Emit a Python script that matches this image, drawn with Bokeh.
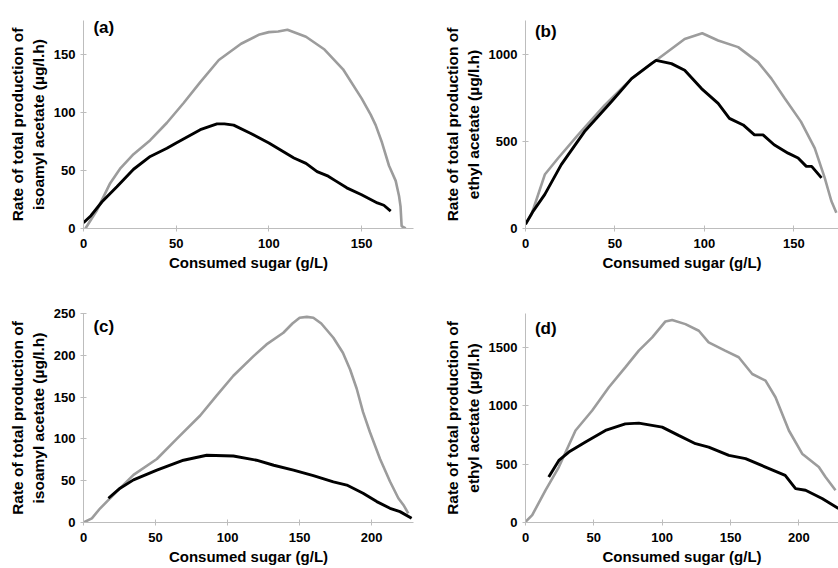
from bokeh.plotting import figure
from bokeh.layouts import column, row
from bokeh.models import Range1d, FixedTicker, Label
from bokeh.embed import file_html
from bokeh.resources import INLINE

# ---------------- data ----------------
# (a) isoamyl acetate, 0-~175 g/L sugar
a_gray_x = [1, 1.8, 7, 14.4, 20, 27, 36, 45, 54, 63, 73, 85, 95, 100, 105, 110, 115, 120, 130, 140, 150, 154.9, 157.6, 161, 164.8, 168.4, 170.2, 171, 171.6, 173.8]
a_gray_y = [0, 2, 15, 39, 52, 64, 76, 91, 108, 126, 145, 159, 167, 169, 169.5, 171, 168, 165, 154, 137, 112, 98, 89, 74, 54, 41, 28, 19, 2, 0]
a_black_x = [0, 4, 10, 18, 27, 36, 45, 50, 63, 72, 76, 81, 90, 100, 113.5, 120, 126, 132, 136, 142, 150, 158.5, 162, 165.7]
a_black_y = [5, 11, 23, 36, 51, 62, 69, 73.6, 85, 90, 90, 89, 82, 73.6, 60.7, 56, 49, 45, 41, 35, 29, 22, 20, 15]

# (b) ethyl acetate
b_gray_x = [0, 3.4, 10.8, 18.3, 29.4, 44.3, 59.3, 74.2, 89, 98.8, 107.7, 118.9, 130, 137.5, 145, 154, 161.7, 167.3, 171, 173.8]
b_gray_y = [25, 82, 310, 405, 538, 709, 861, 975, 1089, 1122, 1080, 1042, 956, 861, 747, 614, 462, 291, 158, 91]
b_black_x = [0, 4.3, 10.8, 20, 33, 48, 59.3, 70.4, 73, 81.6, 89, 98.4, 107.7, 114, 121.7, 128, 132.8, 139, 146.8, 152.4, 157, 160, 165.5]
b_black_y = [25, 100, 196, 367, 557, 728, 861, 947, 966, 947, 909, 804, 719, 633, 595, 538, 538, 481, 433, 405, 357, 357, 291]

# (c) isoamyl acetate, 0-~228 g/L sugar
c_gray_x = [0, 5.8, 11.6, 23, 34.7, 50.9, 64.7, 81, 92.5, 104, 118, 127, 138.7, 145, 150, 155, 159.5, 165, 173.4, 180, 185, 189.6, 194, 198.8, 205.8, 212.7, 218.5, 222, 225.4]
c_gray_y = [0, 5, 17, 37, 57, 76, 100, 128, 152, 175.5, 199, 213, 227, 238, 245, 246, 245, 238, 221, 203, 183, 160, 132, 108, 76, 49, 29, 21, 11]
c_black_x = [17.3, 25.4, 34.7, 50.9, 69.4, 85.5, 104, 120, 132, 145.7, 159.5, 173.4, 182.7, 194, 203.5, 212.7, 219.6, 227.7]
c_black_y = [29, 41, 51, 62.6, 74.5, 80.4, 79.6, 74.5, 68.5, 62.6, 56, 48.7, 44.8, 35, 25, 17, 13, 5]

# (d) ethyl acetate
d_gray_x = [0, 4.9, 14.6, 24.4, 36.6, 48.8, 61, 73, 82.9, 92.7, 102.4, 107.3, 117, 126.8, 134, 146, 156, 165.9, 175.6, 182.9, 192.7, 202.4, 214.6, 219.5, 226.8]
d_gray_y = [6, 63, 276, 475, 788, 959, 1158, 1329, 1472, 1585, 1722, 1734, 1699, 1642, 1543, 1472, 1415, 1272, 1215, 1073, 788, 589, 475, 390, 276]
d_black_x = [17, 24.4, 31.7, 43.9, 58.5, 73, 82.9, 100, 112, 124.4, 134, 148.8, 161, 175.6, 190, 197.6, 204.9, 217, 229]
d_black_y = [390, 532, 603, 689, 788, 845, 851, 817, 746, 675, 646, 575, 547, 475, 404, 290, 276, 205, 120]

x_label = "Consumed sugar (g/L)"
y_label_iso = "Rate of total production of\nisoamyl acetate (µg/l.h)"
y_label_eth = "Rate of total production of\nethyl acetate (µg/l.h)"

FONT = "Liberation Sans"
GRAY = "#9c9c9c"
AXIS = "#bdbdbd"


def panel(tag, tag_off, gx, gy, bx, by, xmax, ymax, xt, yt, ylab, w, h, bl, br, bt, bb):
    p = figure(width=w, height=h, output_backend="svg", toolbar_location=None,
               x_range=Range1d(0, xmax), y_range=Range1d(0, ymax),
               min_border_left=bl, min_border_right=br, min_border_top=bt, min_border_bottom=bb)
    p.outline_line_color = None
    p.grid.visible = False
    p.line(gx, gy, line_color=GRAY, line_width=2.6)
    p.line(bx, by, line_color="black", line_width=2.9)
    p.xaxis.ticker = FixedTicker(ticks=xt)
    p.yaxis.ticker = FixedTicker(ticks=yt)
    for ax in (p.xaxis, p.yaxis):
        ax.axis_line_color = AXIS
        ax.major_tick_line_color = AXIS
        ax.minor_tick_line_color = None
        ax.major_tick_in = 3
        ax.major_tick_out = 3
        ax.major_label_text_font = FONT
        ax.major_label_text_font_style = "bold"
        ax.major_label_text_font_size = "13px"
        ax.major_label_text_color = "black"
        ax.axis_label_text_font = FONT
        ax.axis_label_text_font_style = "bold"
        ax.axis_label_text_color = "black"
    p.xaxis.major_label_standoff = 7
    p.xaxis.axis_label = x_label
    p.xaxis.axis_label_text_font_size = "15px"
    p.xaxis.axis_label_standoff = 3
    p.yaxis.axis_label = ylab
    p.yaxis.axis_label_text_font_size = "15.5px"
    p.yaxis.axis_label_standoff = 4
    p.yaxis.major_label_standoff = 5
    p.add_layout(Label(x=xmax * 0.03, y=ymax, text=tag, text_font=FONT, text_font_style="bold",
                       text_color="black", text_font_size="17px", text_baseline="top", y_offset=tag_off))
    return p


pa = panel("(a)", 3, a_gray_x, a_gray_y, a_black_x, a_black_y, 178, 179, [0, 50, 100, 150], [0, 50, 100, 150],
           y_label_iso, 418, 290, 83, 5, 20, 61)
pb = panel("(b)", -1, b_gray_x, b_gray_y, b_black_x, b_black_y, 175, 1195, [0, 50, 100, 150], [0, 500, 1000],
           y_label_eth, 420, 290, 107, 0, 18, 62)
pc = panel("(c)", -3, c_gray_x, c_gray_y, c_black_x, c_black_y, 229, 250, [0, 50, 100, 150, 200], [0, 50, 100, 150, 200, 250],
           y_label_iso, 418, 278, 83, 5, 23, 44)
pd = panel("(d)", -5, d_gray_x, d_gray_y, d_black_x, d_black_y, 229, 1790, [0, 50, 100, 150, 200], [0, 500, 1000, 1500],
           y_label_eth, 420, 278, 107, 0, 23, 46)

layout = column(row(pa, pb), row(pc, pd))
open("out.html", "w").write(file_html(layout, INLINE))
